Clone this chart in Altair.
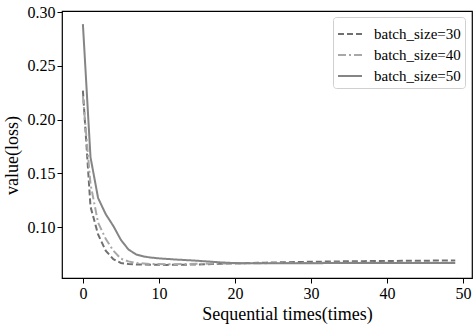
import altair as alt
import pandas as pd

x_vals = list(range(50))

loss_30 = [0.227, 0.119, 0.093, 0.078, 0.070, 0.0665, 0.0655, 0.0650, 0.0650, 0.0648,
           0.0648, 0.0647, 0.0648, 0.0648, 0.0650, 0.0650, 0.0652, 0.0655, 0.0657, 0.0660,
           0.0660, 0.0662, 0.0665, 0.0667, 0.0668, 0.0670, 0.0671, 0.0672, 0.0674, 0.0675,
           0.0676, 0.0677, 0.0678, 0.0679, 0.0680, 0.0680, 0.0681, 0.0682, 0.0683, 0.0683,
           0.0684, 0.0684, 0.0685, 0.0685, 0.0686, 0.0686, 0.0687, 0.0687, 0.0688, 0.0688]

loss_40 = [0.222, 0.140, 0.104, 0.089, 0.078, 0.0705, 0.0680, 0.0665, 0.0660, 0.0655,
           0.0655, 0.0653, 0.0653, 0.0655, 0.0655, 0.0657, 0.0658, 0.0660, 0.0660, 0.0661,
           0.0662, 0.0662, 0.0663, 0.0663, 0.0663, 0.0664, 0.0664, 0.0664, 0.0665, 0.0665,
           0.0665, 0.0665, 0.0666, 0.0666, 0.0666, 0.0666, 0.0667, 0.0667, 0.0667, 0.0667,
           0.0667, 0.0668, 0.0668, 0.0668, 0.0668, 0.0668, 0.0668, 0.0668, 0.0668, 0.0668]

loss_50 = [0.289, 0.165, 0.127, 0.112, 0.101, 0.088, 0.079, 0.0745, 0.0725, 0.0715,
           0.0708, 0.0703, 0.0698, 0.0694, 0.0690, 0.0686, 0.0681, 0.0676, 0.0671, 0.0667,
           0.0664, 0.0663, 0.0663, 0.0663, 0.0663, 0.0663, 0.0663, 0.0663, 0.0663, 0.0663,
           0.0663, 0.0663, 0.0664, 0.0664, 0.0664, 0.0664, 0.0664, 0.0664, 0.0664, 0.0664,
           0.0664, 0.0665, 0.0665, 0.0665, 0.0665, 0.0665, 0.0665, 0.0665, 0.0665, 0.0665]

series_names = ["batch_size=30", "batch_size=40", "batch_size=50"]
series_vals = [loss_30, loss_40, loss_50]
x_ticks = [0, 10, 20, 30, 40, 50]
y_ticks = [0.10, 0.15, 0.20, 0.25, 0.30]

rows = []
for name, vals in zip(series_names, series_vals):
    for xv, yv in zip(x_vals, vals):
        rows.append({"x": xv, "y": yv, "series": name})
df = pd.DataFrame(rows)

FONT = "Liberation Serif"

legend_cfg = dict(title=None, orient="none", legendX=271, legendY=6)

chart = alt.Chart(df).mark_line(strokeWidth=2, clip=True).encode(
    x=alt.X("x:Q",
            scale=alt.Scale(domain=[-2.75, 51.2], nice=False, zero=False),
            axis=alt.Axis(values=x_ticks, title="Sequential times(times)", grid=False,
                          labelFontSize=16, titleFontSize=18, tickSize=5, labelPadding=2,
                          titleX=225, titleY=36, titleBaseline="middle",
                          titleFontWeight="normal", format="d")),
    y=alt.Y("y:Q",
            scale=alt.Scale(domain=[0.0525, 0.3012], nice=False, zero=False),
            axis=alt.Axis(values=y_ticks, title="value(loss)", grid=False,
                          labelFontSize=16, titleFontSize=18, tickSize=5, labelPadding=2,
                          titleX=-50, titleY=144, titleBaseline="middle", titleAlign="center",
                          titleAngle=270,
                          titleFontWeight="normal", format=".2f")),
    color=alt.Color("series:N",
                    scale=alt.Scale(domain=series_names,
                                    range=["#707070", "#a8a8a8", "#858585"]),
                    legend=alt.Legend(**legend_cfg)),
    strokeDash=alt.StrokeDash("series:N",
                              scale=alt.Scale(domain=series_names,
                                              range=[[6, 3], [8, 3, 2, 3], [1, 0]]),
                              legend=alt.Legend(**legend_cfg)),
).properties(
    width=410,
    height=267,
    padding={"left": 62, "top": 11, "right": 3, "bottom": 46},
    autosize=alt.AutoSizeParams(type="none"),
).configure_view(
    stroke="#000000", strokeWidth=1.2
).configure_axis(
    labelFont=FONT, titleFont=FONT, labelColor="#000000", titleColor="#000000",
    domainColor="#000000", tickColor="#000000", domain=False,
).configure_legend(
    labelFont=FONT, labelFontSize=15, labelColor="#000000",
    symbolType="stroke", symbolSize=576, symbolStrokeWidth=2,
    strokeColor="#d0d0d0", fillColor="#ffffff", padding=4, cornerRadius=3,
    rowPadding=-5, labelOffset=11,
)

chart.save("out.html", embed_options={"renderer": "svg", "actions": False})
